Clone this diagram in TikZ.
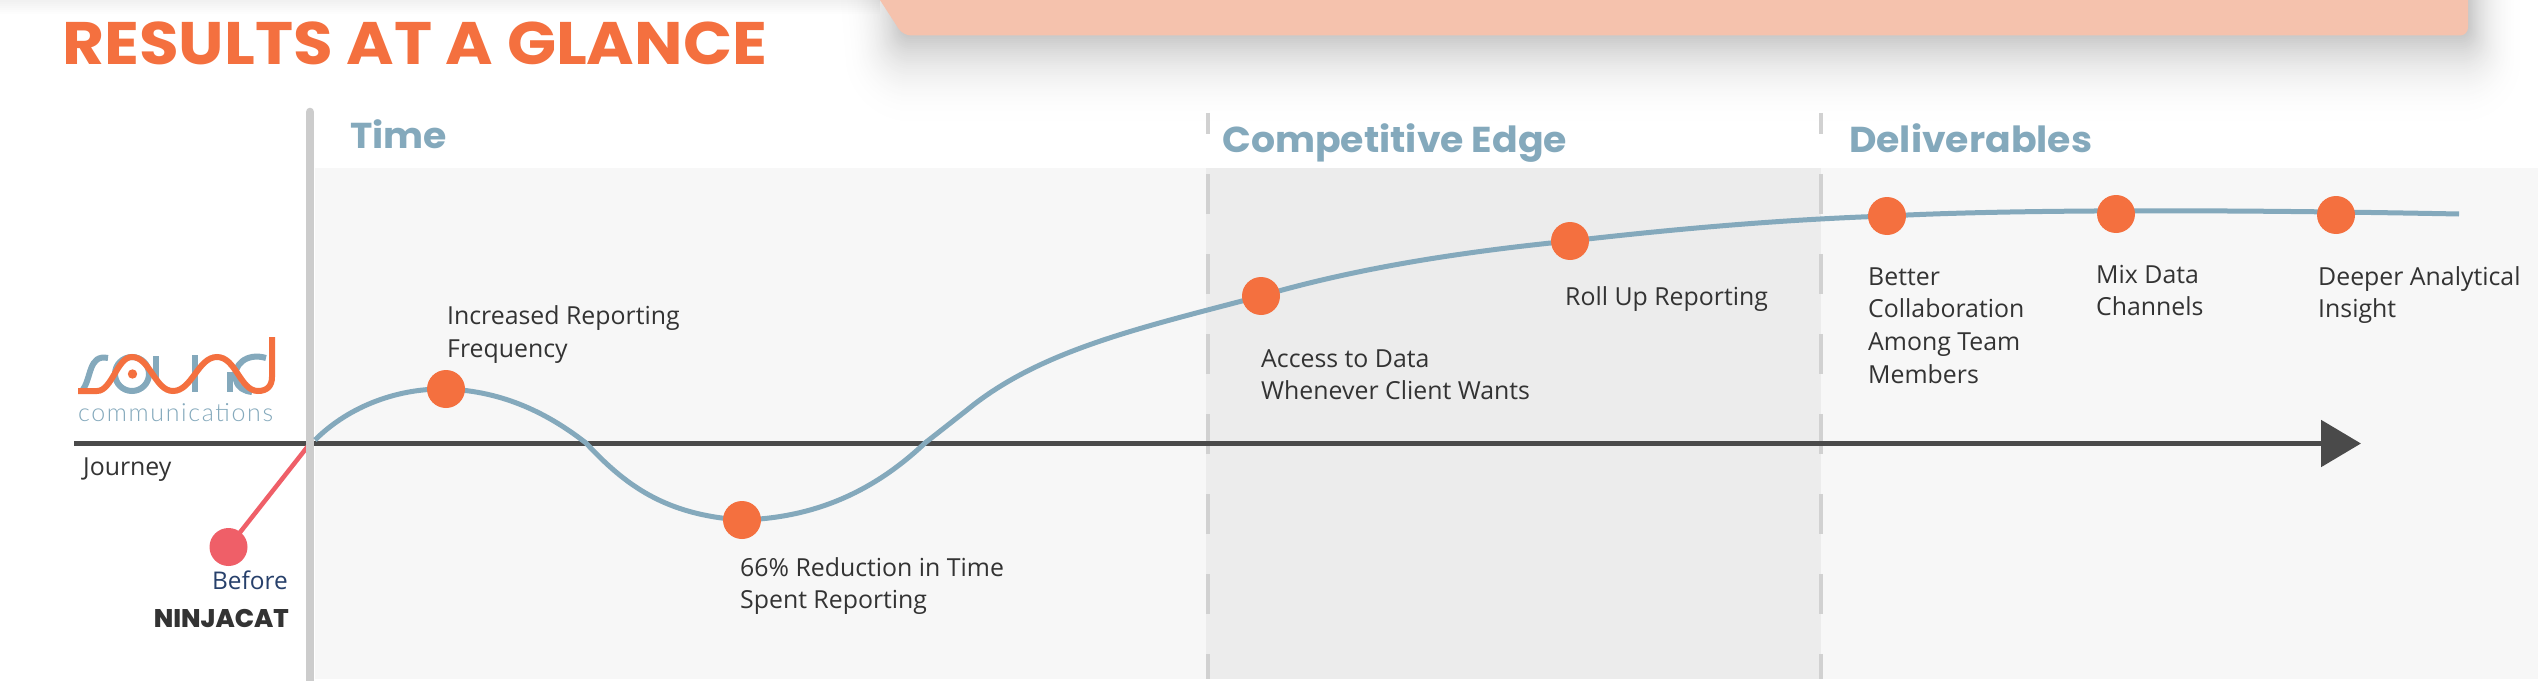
\documentclass[tikz,border=0pt]{standalone}
\usepackage{fontspec}
\usetikzlibrary{arrows.meta}
\setmainfont{Open Sans}
\newfontfamily\titlef{Poppins}[FakeStretch=1.075]
\newfontfamily\headf{Poppins}[FakeStretch=1.05]
\newfontfamily\heavyf{Poppins ExtraBold}
\newfontfamily\thinf{Lato Light}[LetterSpace=6.5]
\definecolor{orng}{HTML}{F4703F}
\definecolor{steel}{HTML}{84A9BC}
\definecolor{salmon}{HTML}{F5C2AD}
\definecolor{rosey}{HTML}{EF5F68}
\definecolor{barg}{HTML}{CCCCCC}
\definecolor{lightp}{HTML}{F7F7F7}
\definecolor{darkp}{HTML}{ECECEC}
\definecolor{axisc}{HTML}{4A4A4A}
\definecolor{txt}{HTML}{333333}
\definecolor{navy}{HTML}{27406B}
\tikzset{
  x=1pt,y=-1pt,
  dot/.style={circle,fill=orng,inner sep=0pt,minimum size=38pt},
  lab/.style={anchor=north west,inner sep=0pt,align=left,text=txt,font=\fontsize{24.85}{32.7}\selectfont},
  head/.style={anchor=base west,inner sep=0pt,text=steel,font=\headf\bfseries\fontsize{36}{40}\selectfont},
  sep/.style={barg!90!white,line width=4pt},
  logo/.style={line width=6pt},
}
\newcommand{\fr}{\rule{0pt}{20pt}}
\begin{document}
\begin{tikzpicture}
\useasboundingbox (0,0) rectangle (2538,682);
\fill[white] (0,0) rectangle (2538,682);
\begin{scope}
\clip (0,0) rectangle (2538,682);
\foreach \d in {100,98,...,0}{
  \pgfmathsetmacro{\pct}{22*(1-\d/100)^2.5}
  \pgfmathsetmacro{\rx}{0.6*\d}
  \pgfmathsetmacro{\cc}{\rx+8}
  \fill[black!\pct!white,rounded corners=\cc pt]
    (876-\rx,-200) -- (903-\rx,35+\d) -- (2468+\rx,35+\d) -- (2468+\rx,-200) -- cycle;
}
\foreach \h in {2,4,...,14}{
  \fill[black,opacity=0.008] (0,0) rectangle (880,\h);
}
\fill[salmon,rounded corners=8pt] (854,-40) -- (903,35.5) -- (2468,35.5) -- (2468,-40) -- cycle;
\end{scope}
\node[anchor=base west,inner sep=0pt,text=orng,font=\titlef\bfseries\fontsize{60}{64}\selectfont] (title) at (62,65) {RESULTS AT A GLANCE};
% panels
\fill[lightp] (315,168) rectangle (2538,679);
\fill[darkp] (1206,168) rectangle (1821,679);
% section separators
\foreach \sx in {1208,1820.5}{
  \draw[sep] (\sx,113) -- (\sx,134);
  \draw[sep,dash pattern=on 40pt off 40pt] (\sx,174) -- (\sx,679);
}
% axis
\coordinate (axL) at (74,443.5);
\coordinate (axR) at (2361,443.5);
\draw[axisc,line width=5.5pt,-{Triangle[length=40pt,width=46pt]}] (axL) -- (axR);
% red line
\coordinate (b0) at (228.5,547);
\coordinate (b1) at (312,441);
\draw[rosey,line width=4.5pt] (b0) -- (b1);
\node[circle,fill=rosey,inner sep=0pt,minimum size=38pt] (before) at (b0) {};
% bar
\begin{scope}
\clip (0,100) rectangle (2538,680.5);
\draw[barg,line width=8.6pt,line cap=round] (310,112) -- (310,700);
\end{scope}
% curve
\coordinate (c0) at (315,440);
\coordinate (p1) at (446,389);
\coordinate (p2) at (742,520);
\coordinate (m1) at (586,443);
\coordinate (m2) at (925,443);
\coordinate (m3) at (967,410);
\coordinate (p3) at (1261,296);
\coordinate (p4) at (1570,241);
\coordinate (p5) at (1887,216);
\coordinate (p6) at (2116,214);
\coordinate (p7) at (2336,215);
\coordinate (c1) at (2459,214);
\draw[steel,line width=5pt]
  (c0) .. controls (350,405) and (400,388) .. (p1)
  .. controls (505,391) and (550,415) .. (m1)
  .. controls (625,485) and (665,515) .. (p2)
  .. controls (810,518) and (870,495) .. (m2)
  -- (m3)
  .. controls (1040,350) and (1140,328) .. (p3)
  .. controls (1350,270) and (1450,253) .. (p4)
  .. controls (1700,226) and (1800,219) .. (p5)
  .. controls (2000,210) and (2200,209) .. (c1);
\foreach \n in {1,...,7}{ \node[dot] (d\n) at (p\n) {}; }
% labels
\node[lab] (l1) at (447,304.5) {\fr Increased Reporting\\Frequency};
\node[lab] (l2) at (740,556) {\fr 66\% Reduction in Time\\Spent Reporting};
\node[lab] (l3) at (1261,347) {\fr Access to Data\\Whenever Client Wants};
\node[lab] (l4) at (1565,285) {\fr Roll Up Reporting};
\node[lab] (l5) at (1868,265) {\fr Better\\Collaboration\\Among Team\\Members};
\node[lab] (l6) at (2096,263) {\fr Mix Data\\Channels};
\node[lab] (l7) at (2318,265) {\fr Deeper Analytical\\Insight};
\node[lab] (jr) at (83,455) {\fr Journey};
\node[anchor=base east,inner sep=0pt,text=navy,font=\fontsize{24.4}{30}\selectfont] (bf) at (288,589) {Before};
\node[anchor=base east,inner sep=0pt,text=txt,font=\heavyf\fontsize{25.5}{30}\selectfont] (nj) at (289,627) {NINJACAT};
% headings
\node[head] (h1) at (350,149) {Time};
\node[head] (h2) at (1222,153) {Competitive Edge};
\node[head] (h3) at (1849,153) {Deliverables};
% logo
\draw[steel,logo] (108,358) .. controls (88,354) and (92,378) .. (82,391);
\draw[steel,logo] (132,374) circle (17pt);
\draw[steel,logo] (156,356) -- (156,378);
\draw[steel,logo] (195,355) -- (195,392);
\draw[steel,logo] (230,372) -- (230,392);
\draw[steel,logo] (266,358) .. controls (246,352) and (232,366) .. (236,380) .. controls (238,388) and (244,391) .. (252,392);
\draw[orng,logo] (78,391) -- (97,391) .. controls (112,391) and (117,357) .. (132,357)
  .. controls (150,357) and (155,391) .. (173,391)
  .. controls (192,391) and (198,357) .. (217,357)
  .. controls (236,357) and (240,391) .. (258,391)
  .. controls (267,391) and (272,386) .. (272,377) -- (272,337);
\fill[orng] (132.5,374) circle (4.7pt);
\node[anchor=base west,inner sep=0pt,text=steel,font=\thinf\fontsize{25}{30}\selectfont] (cm) at (78,421.5) {communications};
\end{tikzpicture}
\end{document}
